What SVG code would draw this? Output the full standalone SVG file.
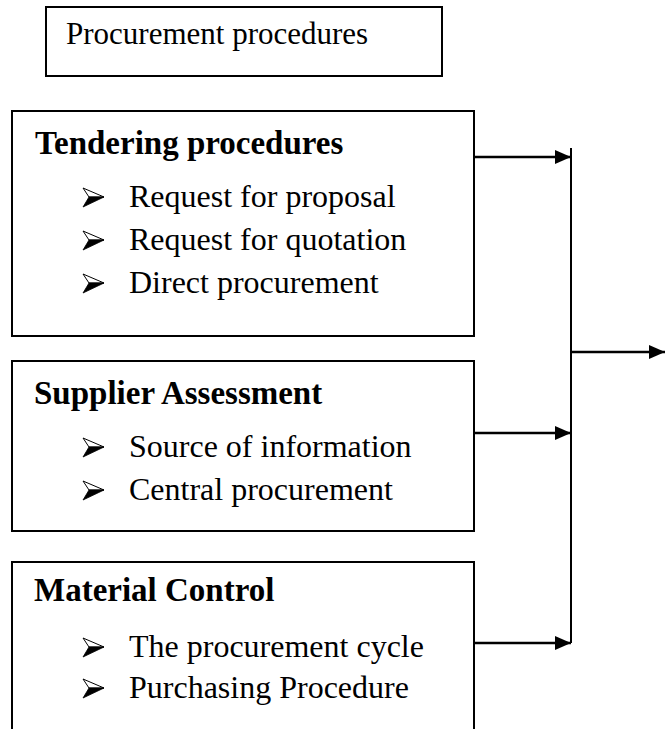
<svg xmlns="http://www.w3.org/2000/svg" width="665" height="729" viewBox="0 0 665 729">
<style>
.box{fill:#fff;stroke:#000;stroke-width:2}
.t{font-family:"Liberation Serif","Times New Roman",serif;font-size:32px;fill:#000}
.h{font-size:31px}
.b{font-weight:bold;font-size:33px}
.ln{stroke:#000;stroke-width:2.5;fill:none}
.vl{stroke:#000;stroke-width:2;fill:none}
</style>
<defs>
<marker id="ah" markerWidth="16" markerHeight="14" refX="16" refY="7" orient="auto" markerUnits="userSpaceOnUse">
<path d="M0,0 L16,7 L0,14 Z" fill="#000"/>
</marker>
<g id="bul">
<path d="M0,-9 L21,0 L6,0 Z" fill="#fff" stroke="#000" stroke-width="1"/>
<path d="M6,0 L21,0 L0,10 Z" fill="#000" stroke="#000" stroke-width="0.8"/>
</g>
</defs>
<g id="procurement-procedures">
<rect class="box" x="46" y="7" width="396" height="69"/>
<text class="t h" x="66" y="44">Procurement procedures</text>
</g>
<g id="tendering">
<rect class="box" x="12" y="111" width="462" height="225"/>
<text class="t b" x="35" y="154">Tendering procedures</text>
<use href="#bul" x="83" y="197"/>
<text class="t" x="129" y="207">Request for proposal</text>
<use href="#bul" x="83" y="240"/>
<text class="t" x="129" y="250">Request for quotation</text>
<use href="#bul" x="83" y="283"/>
<text class="t" x="129" y="293">Direct procurement</text>
</g>
<g id="supplier">
<rect class="box" x="12" y="361" width="462" height="170"/>
<text class="t b" x="34" y="404">Supplier Assessment</text>
<use href="#bul" x="83" y="447"/>
<text class="t" x="129" y="457">Source of information</text>
<use href="#bul" x="83" y="490"/>
<text class="t" x="129" y="500">Central procurement</text>
</g>
<g id="material">
<path class="box" d="M12,740 L12,562 L474,562 L474,740"/>
<text class="t b" x="34" y="601">Material Control</text>
<use href="#bul" x="83" y="647"/>
<text class="t" x="129" y="657">The procurement cycle</text>
<use href="#bul" x="83" y="688"/>
<text class="t" x="129" y="698">Purchasing Procedure</text>
</g>
<g id="connectors">
<line class="vl" x1="571" y1="148" x2="571" y2="643"/>
<line class="ln" x1="474" y1="157" x2="571" y2="157" marker-end="url(#ah)"/>
<line class="ln" x1="474" y1="433" x2="571" y2="433" marker-end="url(#ah)"/>
<line class="ln" x1="474" y1="643" x2="571" y2="643" marker-end="url(#ah)"/>
<line class="ln" x1="570" y1="352" x2="665" y2="352" marker-end="url(#ah)"/>
</g>
</svg>
